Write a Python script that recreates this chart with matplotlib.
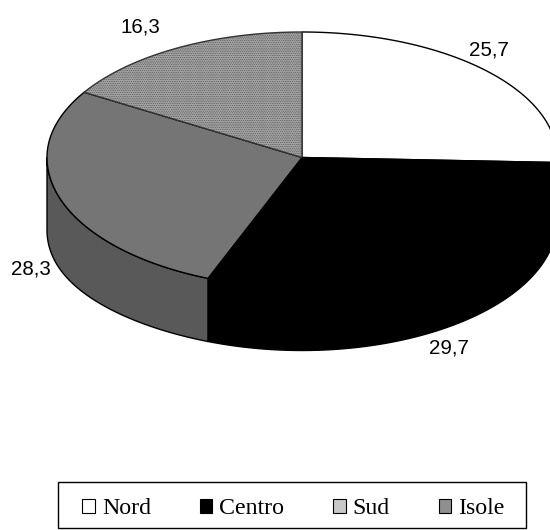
import numpy as np
import matplotlib
matplotlib.use('Agg')
from matplotlib import pyplot as plt
from matplotlib.patches import Patch, Rectangle

# slices in drawing order, clockwise from the top
slice_values = [25.7, 29.7, 28.3, 16.3]
slice_labels = ['25,7', '29,7', '28,3', '16,3']
top_colors = ['white', 'black', '#757575', '#a0a0a0']
wall_colors = ['white', 'black', '#595959', '#a0a0a0']

legend_names = ['Nord', 'Centro', 'Sud', 'Isole']
legend_colors = ['white', 'black', '#c8c8c8', '#8f8f8f']

W, H = 550, 530
cx, cy, rx, ry = 302, 157.5, 255, 125.5
front = 130 / ry     # front half of the rim sits lower, perspective of the 3d pie
depth = 63 / ry

plt.rcParams['hatch.linewidth'] = 0.25


def rim(t):
    # point on the top rim for clockwise angle t from 12 o'clock
    t = np.where((t > np.pi / 2) & (t < 3 * np.pi / 2),
                 t - np.radians(3.5) * np.sin(2 * (t - np.pi / 2)), t)
    xs = np.sin(t)
    ys = np.cos(t)
    return xs, np.where(ys < 0, ys * front, ys)


fig = plt.figure(figsize=(W / 100, H / 100), dpi=100)
ax = fig.add_axes([0, 0, 1, 1])

edges = np.cumsum([0] + slice_values) / 100 * 2 * np.pi

# side wall of the cake, only the front half shows
for i in range(len(slice_values)):
    a0 = max(edges[i], np.pi / 2)
    a1 = min(edges[i + 1], 3 * np.pi / 2)
    if a1 <= a0:
        continue
    xs, ys = rim(np.linspace(a0, a1, 100))
    # wall gets a bit taller towards the left edge
    drop = depth * (1 + 0.15 * np.maximum(-xs, 0) ** 4)
    ax.fill(np.r_[xs, xs[::-1]], np.r_[ys, (ys - drop)[::-1]],
            facecolor=wall_colors[i], edgecolor='black', linewidth=1)

# top of the cake
for i in range(len(slice_values)):
    xs, ys = rim(np.linspace(edges[i], edges[i + 1], 200))
    patch = ax.fill(np.r_[0, xs], np.r_[0, ys], facecolor=top_colors[i],
                    edgecolor='black', linewidth=1)[0]
    if i == 3:
        patch.set_hatch('.........')
        patch.set_edgecolor('#333333')

ax.set_xlim(-cx / rx, (W - cx) / rx)
ax.set_ylim((cy - H) / ry, cy / ry)
ax.axis('off')

# value labels, pixel spots
label_x = [489, 449, 31, 140]
label_y = [50, 348, 269, 27]
for s, x, y in zip(slice_labels, label_x, label_y):
    fig.text(x / W, 1 - y / H, s, family='Liberation Sans', fontsize=14.8,
             ha='center', va='center', color='black')

# legend box
fig.add_artist(Rectangle((58 / W, 1 - 528 / H), 468 / W, 46 / H, transform=fig.transFigure,
                         facecolor='white', edgecolor='black', linewidth=1))
handles = [Patch(facecolor=c, edgecolor='black', linewidth=0.8) for c in legend_colors]
fig.legend(handles, legend_names, ncol=4, loc='center', bbox_to_anchor=(293.5 / W, 1 - 509 / H),
           frameon=False, prop={'family': 'Liberation Serif', 'size': 17.2},
           handlelength=0.52, handleheight=0.52, handletextpad=0.3, columnspacing=2.04)

fig.savefig('out.png', dpi=100)
